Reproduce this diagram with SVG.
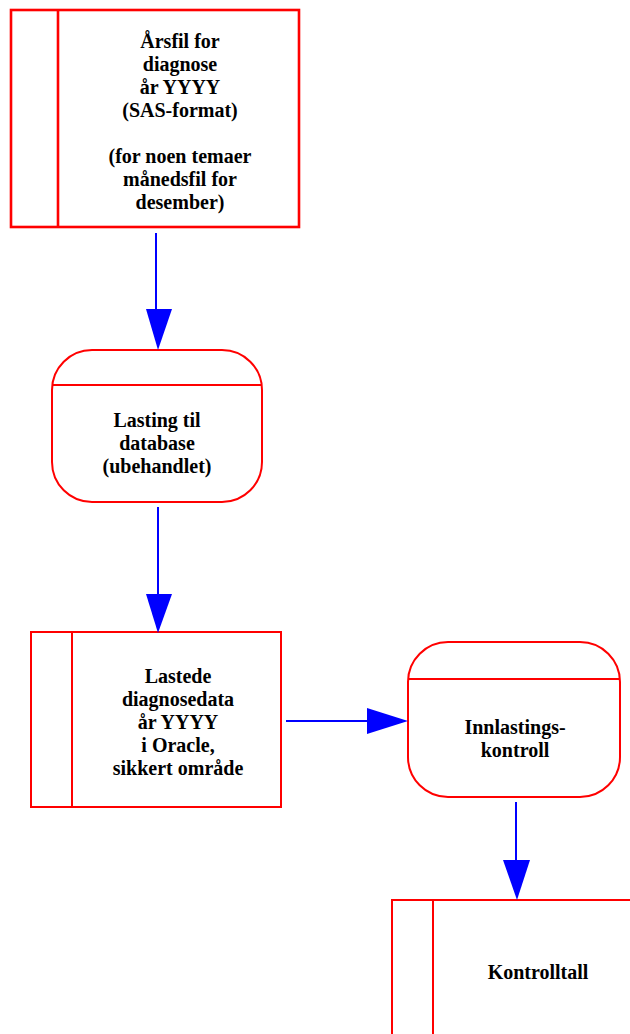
<svg xmlns="http://www.w3.org/2000/svg" width="630" height="1034" viewBox="0 0 630 1034">
<style>
.box{fill:#fff;stroke:#f00;stroke-width:2}
.thick{stroke-width:2.6}
.t{font-family:"Liberation Serif","Times New Roman",serif;font-weight:bold;font-size:20px;fill:#000;text-anchor:middle}
.c{stroke:#00f;stroke-width:2;fill:none}
.h{fill:#00f;stroke:none}
</style>
<rect width="630" height="1034" fill="#fff"/>
<g id="node-arsfil">
<rect class="box thick" x="11" y="10" width="288" height="217"/>
<line class="box thick" x1="58" y1="10" x2="58" y2="227"/>
<text class="t" x="180" y="48">Årsfil for</text>
<text class="t" x="180" y="71">diagnose</text>
<text class="t" x="180" y="94">år YYYY</text>
<text class="t" x="180" y="117">(SAS-format)</text>
<text class="t" x="180" y="163">(for noen temaer</text>
<text class="t" x="180" y="186">månedsfil for</text>
<text class="t" x="180" y="209">desember)</text>
</g>
<g id="node-lasting">
<rect class="box" x="52" y="350" width="210" height="152" rx="40" ry="40"/>
<line class="box" x1="52" y1="385" x2="262" y2="385"/>
<text class="t" x="157" y="427">Lasting til</text>
<text class="t" x="157" y="450">database</text>
<text class="t" x="157" y="473">(ubehandlet)</text>
</g>
<g id="node-lastede">
<rect class="box" x="31" y="632" width="250" height="175"/>
<line class="box" x1="72" y1="632" x2="72" y2="807"/>
<text class="t" x="178" y="683">Lastede</text>
<text class="t" x="178" y="706">diagnosedata</text>
<text class="t" x="178" y="729">år YYYY</text>
<text class="t" x="178" y="752">i Oracle,</text>
<text class="t" x="178" y="775">sikkert område</text>
</g>
<g id="node-innlasting">
<rect class="box" x="408" y="642" width="212" height="155" rx="40" ry="40"/>
<line class="box" x1="408" y1="679" x2="620" y2="679"/>
<text class="t" x="515" y="734">Innlastings-</text>
<text class="t" x="515" y="757">kontroll</text>
</g>
<g id="node-kontrolltall">
<rect class="box" x="392" y="900" width="260" height="200"/>
<line class="box" x1="433" y1="900" x2="433" y2="1034"/>
<text class="t" x="538" y="979">Kontrolltall</text>
</g>
<g id="connectors">
<line class="c" x1="156" y1="233" x2="156" y2="312"/>
<polygon class="h" points="146,309 172,309 158,350"/>
<line class="c" x1="158" y1="507" x2="158" y2="597"/>
<polygon class="h" points="146,594 172,594 158,633"/>
<line class="c" x1="286" y1="721" x2="370" y2="721"/>
<polygon class="h" points="367,708 367,734 408,721"/>
<line class="c" x1="516" y1="802" x2="516" y2="862"/>
<polygon class="h" points="503,860 530,860 517,900"/>
</g>
</svg>
